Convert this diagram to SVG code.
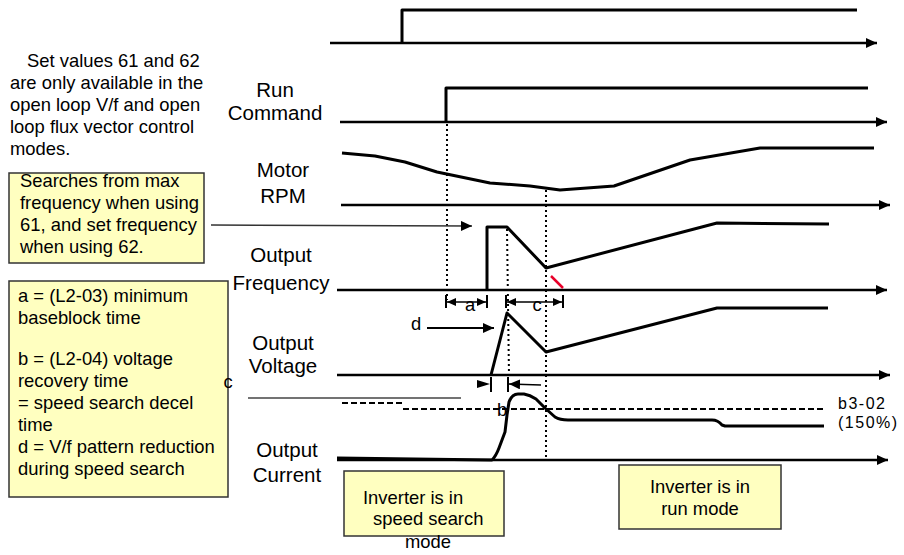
<svg xmlns="http://www.w3.org/2000/svg" width="904" height="555" viewBox="0 0 904 555">
<style>
.w{fill:none;stroke:#000;stroke-width:3;stroke-linejoin:round}
.ax{fill:none;stroke:#000;stroke-width:2.5}
.dot{fill:none;stroke:#000;stroke-width:2;stroke-dasharray:2 3}
.thin{fill:none;stroke:#000;stroke-width:1.5}
.box{fill:#ffffc0;stroke:#333;stroke-width:1.5}
.t{font-family:"Liberation Sans",Arial,sans-serif;font-size:18.4px;fill:#000}
.lbl{font-family:"Liberation Sans",Arial,sans-serif;font-size:20.5px;fill:#000;text-anchor:middle}
.sm{font-family:"Liberation Sans",Arial,sans-serif;font-size:16px;fill:#000;letter-spacing:1.5px}
</style>
<defs>
<marker id="ah" markerUnits="userSpaceOnUse" markerWidth="12" markerHeight="10" refX="11" refY="5" orient="auto">
<path d="M0,0 L11,5 L0,10 Z" fill="#000"/>
</marker>
<marker id="ahs" markerUnits="userSpaceOnUse" markerWidth="10" markerHeight="8" refX="9" refY="4" orient="auto">
<path d="M0,0 L9,4 L0,8 Z" fill="#000"/>
</marker>
</defs>

<g id="axes">
<line class="ax" x1="330" y1="43" x2="877" y2="43" marker-end="url(#ah)"/>
<line class="ax" x1="340" y1="122" x2="887" y2="122" marker-end="url(#ah)"/>
<line class="ax" x1="341" y1="205" x2="890" y2="205" marker-end="url(#ah)"/>
<line class="ax" x1="337" y1="290" x2="887" y2="290" marker-end="url(#ah)"/>
<line class="ax" x1="337" y1="375" x2="890" y2="375" marker-end="url(#ah)"/>
<line class="ax" x1="337" y1="460" x2="888" y2="460" marker-end="url(#ah)"/>
</g>

<g id="waveforms">
<path class="w" d="M402,43 V10 H857" stroke="#222"/>
<path class="w" d="M446,122 V88 H868"/>
<path class="w" d="M342,153 L375,156 L405,162 L437,172 L490,183 L530,186 L560,190 L614,186 L690,160 L760,148 L874,148"/>
<path class="w" d="M487,290 V227 H507 L546,268 L717,223 L829,224"/>
<path class="w" d="M491,375 L507,313 L546,352 L717,308 L828,308"/>
<path class="w" d="M337,458 L492,460 Q496,456 499,448 L505,432 L507,415 L509,402 Q512,394 518,394 L524,394 Q530,395 536,399 L545,408 L555,417 Q560,420 568,420 L712,420 Q718,420 722,425 L725,426 L824,426"/>
<line x1="551" y1="276" x2="563" y2="288" stroke="#e8002a" stroke-width="2.5"/>
</g>

<g id="guides">
<line class="dot" x1="447" y1="124" x2="447" y2="300"/>
<line class="dot" x1="507" y1="229" x2="509" y2="376"/>
<line class="dot" x1="546" y1="190" x2="546" y2="460" stroke-width="1.5"/>
<line x1="248" y1="398" x2="461" y2="398" stroke="#444" stroke-width="1.5"/>
<path d="M342,403 H403" stroke="#000" stroke-width="2" stroke-dasharray="6 3" fill="none"/>
<path d="M403,409 H825" stroke="#000" stroke-width="2" stroke-dasharray="6 3" fill="none"/>
</g>

<g id="connectors">
<line x1="211" y1="225" x2="472" y2="226" stroke="#333" stroke-width="1.5" marker-end="url(#ah)"/>
<line x1="427" y1="328" x2="494" y2="328" stroke="#000" stroke-width="2" marker-end="url(#ah)"/>
<line x1="446" y1="295" x2="446" y2="308" stroke="#000" stroke-width="2"/>
<line x1="487" y1="295" x2="487" y2="308" stroke="#000" stroke-width="2"/>
<line class="thin" x1="466" y1="302" x2="447" y2="302" marker-end="url(#ahs)"/>
<line class="thin" x1="466" y1="302" x2="486" y2="302" marker-end="url(#ahs)"/>
<line x1="506" y1="295" x2="506" y2="308" stroke="#000" stroke-width="2"/>
<line x1="563" y1="295" x2="563" y2="308" stroke="#000" stroke-width="2"/>
<line class="thin" x1="535" y1="302" x2="507" y2="302" marker-end="url(#ahs)"/>
<line class="thin" x1="535" y1="302" x2="562" y2="302" marker-end="url(#ahs)"/>
<line x1="491" y1="377" x2="491" y2="392" stroke="#000" stroke-width="2"/>
<line x1="508" y1="377" x2="508" y2="392" stroke="#000" stroke-width="2"/>
<path d="M477,380 L490,384 L477,388 Z" fill="#000"/>
<line class="thin" x1="541" y1="385" x2="509" y2="384" marker-end="url(#ah)"/>
</g>

<g id="signal-labels">
<text class="lbl" x="275" y="97">Run</text>
<text class="lbl" x="275" y="120">Command</text>
<text class="lbl" x="283" y="177">Motor</text>
<text class="lbl" x="283" y="203">RPM</text>
<text class="lbl" x="281" y="262">Output</text>
<text class="lbl" x="281" y="290">Frequency</text>
<text class="lbl" x="283" y="350">Output</text>
<text class="lbl" x="283" y="373">Voltage</text>
<text class="lbl" x="287" y="457">Output</text>
<text class="lbl" x="287" y="482">Current</text>
</g>

<g id="note">
<text class="t"><tspan x="27" y="67">Set values 61 and 62</tspan><tspan x="10" y="89">are only available in the</tspan><tspan x="10" y="111">open loop V/f and open</tspan><tspan x="10" y="133">loop flux vector control</tspan><tspan x="10" y="155">modes.</tspan></text>
</g>

<g id="search-box">
<rect class="box" x="9" y="173" width="195" height="90"/>
<text class="t"><tspan x="20" y="187">Searches from max</tspan><tspan x="20" y="209">frequency when using</tspan><tspan x="20" y="231">61, and set frequency</tspan><tspan x="20" y="253">when using 62.</tspan></text>
</g>

<g id="definitions-box">
<rect class="box" x="9" y="281" width="219" height="216"/>
<text class="t"><tspan x="18" y="302">a = (L2-03) minimum</tspan><tspan x="18" y="324">baseblock time</tspan><tspan x="18" y="365">b = (L2-04) voltage</tspan><tspan x="18" y="387">recovery time</tspan><tspan x="18" y="409">= speed search decel</tspan><tspan x="18" y="431">time</tspan><tspan x="18" y="453">d = V/f pattern reduction</tspan><tspan x="18" y="475">during speed search</tspan></text>
</g>

<g id="speed-search-box">
<rect class="box" x="344" y="471" width="160" height="65"/>
<text class="t"><tspan x="363" y="504">Inverter is in</tspan><tspan x="373" y="525">speed search</tspan><tspan x="405" y="548">mode</tspan></text>
</g>

<g id="run-mode-box">
<rect class="box" x="619" y="465" width="162" height="64"/>
<text class="t" text-anchor="middle"><tspan x="700" y="493">Inverter is in</tspan><tspan x="700" y="515">run mode</tspan></text>
</g>

<g id="labels">
<text class="t" x="470" y="311" text-anchor="middle">a</text>
<text class="t" x="537" y="311" text-anchor="middle">c</text>
<text class="t" x="416" y="330" text-anchor="middle">d</text>
<text class="t" x="502" y="416" text-anchor="middle">b</text>
<text class="t" x="228" y="388" text-anchor="middle">c</text>
<text class="sm" x="838" y="409">b3-02</text>
<text class="sm" x="838" y="428">(150%)</text>
</g>
</svg>
